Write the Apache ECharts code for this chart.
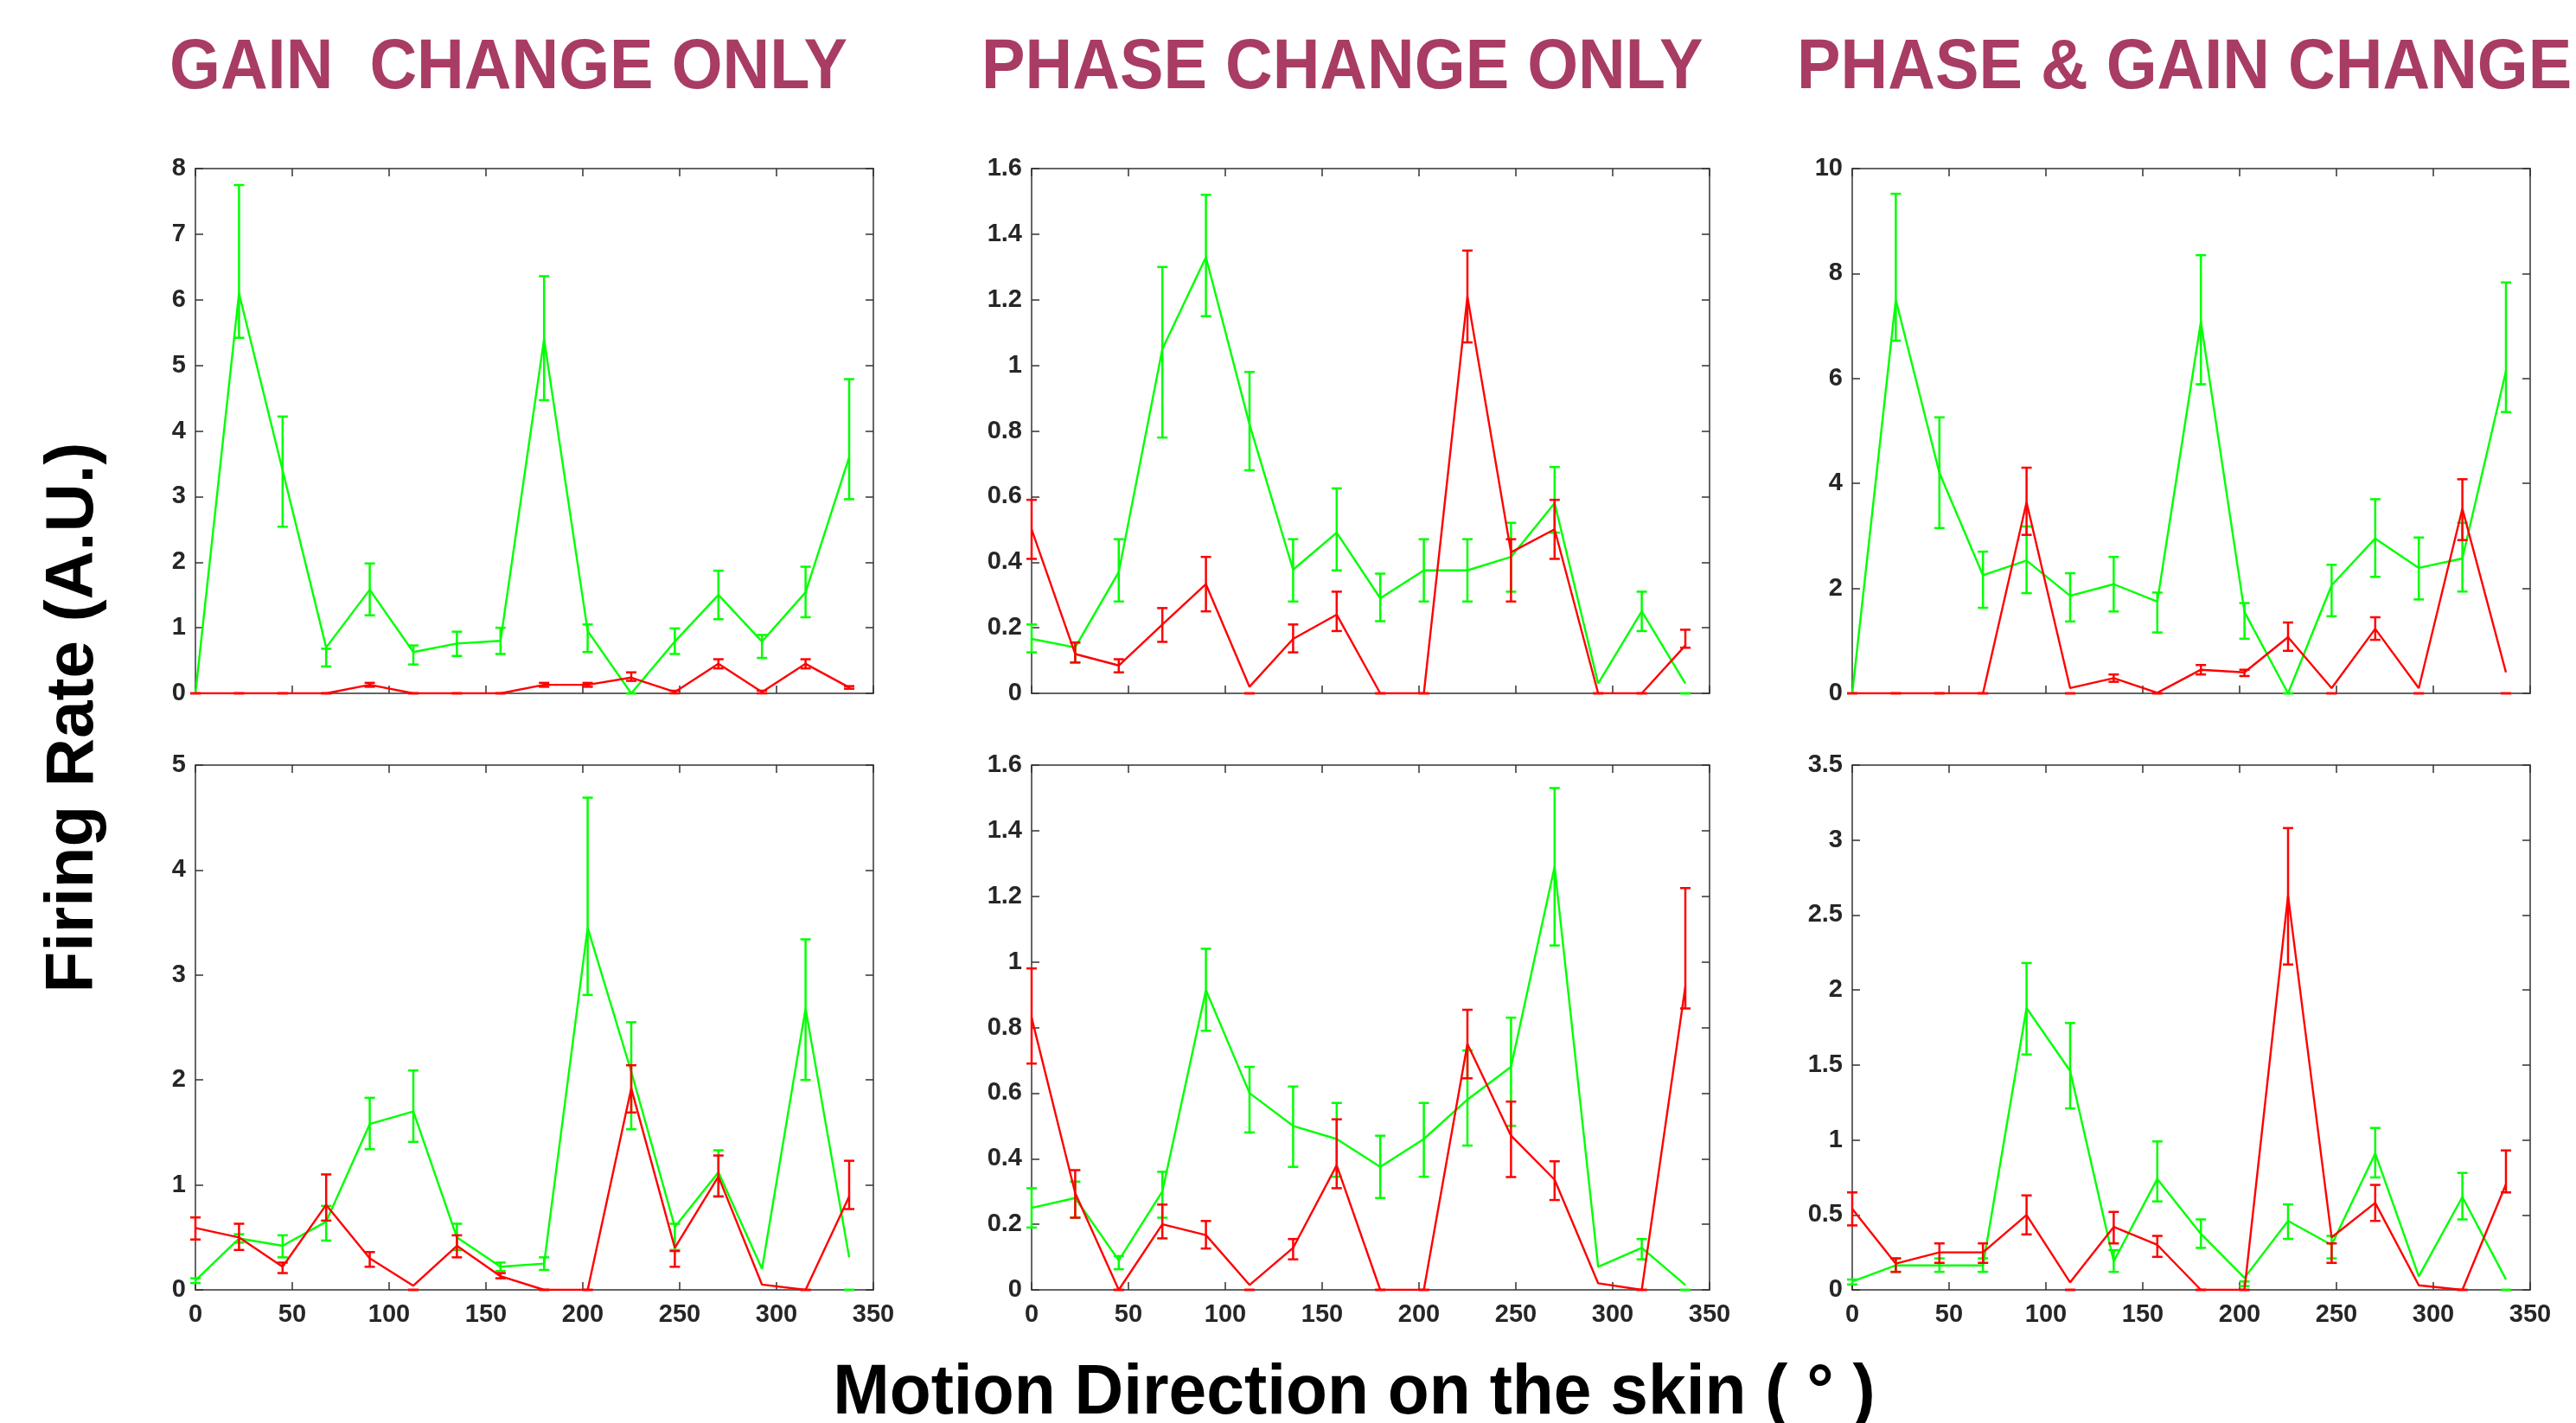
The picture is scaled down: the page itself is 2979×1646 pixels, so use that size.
<!DOCTYPE html>
<html>
<head>
<meta charset="utf-8">
<script src="https://cdn.jsdelivr.net/npm/echarts@6/dist/echarts.min.js"></script>
<style>
  html, body { margin: 0; padding: 0; background: #ffffff; }
  #chart { width: 2979px; height: 1646px; }
</style>
</head>
<body>
<div id="chart"></div>
<script>
// ---------------- DATA ----------------
const directions = [0, 22.5, 45, 67.5, 90, 112.5, 135, 157.5, 180, 202.5, 225, 247.5, 270, 292.5, 315, 337.5];

const columnTitles = ['GAIN  CHANGE ONLY', 'PHASE CHANGE ONLY', 'PHASE & GAIN CHANGE'];
const yAxisTitle = 'Firing Rate (A.U.)';
const xAxisTitle = 'Motion Direction on the skin ( \u00B0 )';

const xTickMax = 350, xTickStep = 50;
const panelYMax  = [8, 1.6, 10, 5, 1.6, 3.5];
const panelYStep = [1, 0.2, 2, 1, 0.2, 0.5];

// Panel A: gain change only, top
const greenA    = [0, 6.1, 3.4, 0.7, 1.58, 0.63, 0.76, 0.8, 5.4, 0.95, 0, 0.79, 1.5, 0.79, 1.54, 3.6];
const greenA_lo = [null, 5.42, 2.54, 0.41, 1.19, 0.44, 0.57, 0.6, 4.47, 0.63, 0, 0.6, 1.13, 0.54, 1.16, 2.96];
const greenA_hi = [null, 7.75, 4.22, 0.68, 1.98, 0.73, 0.94, 1.0, 6.36, 1.05, 0, 0.99, 1.87, 0.89, 1.93, 4.79];
const redA      = [0, 0, 0, 0, 0.13, 0, 0, 0, 0.13, 0.13, 0.24, 0.02, 0.45, 0.02, 0.45, 0.09];
const redA_lo   = [0, 0, 0, 0, 0.1, 0, 0, 0, 0.1, 0.1, 0.19, 0, 0.38, 0, 0.38, 0.07];
const redA_hi   = [0, 0, 0, 0, 0.16, 0, 0, 0, 0.16, 0.16, 0.32, 0.04, 0.52, 0.04, 0.52, 0.11];

// Panel B: phase change only, top
const greenB    = [0.166, 0.14, 0.37, 1.05, 1.33, 0.82, 0.377, 0.49, 0.29, 0.375, 0.375, 0.416, 0.58, 0.03, 0.25, 0.03];
const greenB_lo = [0.125, 0.094, 0.28, 0.78, 1.15, 0.68, 0.28, 0.375, 0.22, 0.28, 0.28, 0.31, 0.49, null, 0.19, 0];
const greenB_hi = [0.21, 0.155, 0.47, 1.30, 1.52, 0.98, 0.47, 0.625, 0.365, 0.47, 0.47, 0.52, 0.69, null, 0.31, 0];
const redB      = [0.5, 0.12, 0.085, 0.21, 0.333, 0.02, 0.166, 0.24, 0, 0, 1.21, 0.43, 0.5, 0, 0, 0.146];
const redB_lo   = [0.41, 0.094, 0.064, 0.157, 0.25, 0, 0.125, 0.19, 0, 0, 1.07, 0.28, 0.41, 0, 0, 0.139];
const redB_hi   = [0.59, 0.155, 0.104, 0.26, 0.416, 0, 0.21, 0.31, 0, 0, 1.35, 0.47, 0.59, 0, 0, 0.194];

// Panel C: phase & gain change, top
const greenC    = [0, 7.5, 4.2, 2.25, 2.53, 1.86, 2.08, 1.75, 7.08, 1.55, 0, 2.06, 2.95, 2.39, 2.57, 6.14];
const greenC_lo = [null, 6.72, 3.15, 1.63, 1.91, 1.37, 1.56, 1.16, 5.89, 1.04, 0, 1.47, 2.22, 1.79, 1.94, 5.36];
const greenC_hi = [null, 9.52, 5.26, 2.7, 3.18, 2.29, 2.6, 1.92, 8.35, 1.72, 0, 2.45, 3.7, 2.97, 3.25, 7.83];
const redC      = [0, 0, 0, 0, 3.64, 0.1, 0.29, 0.01, 0.45, 0.4, 1.07, 0.1, 1.23, 0.1, 3.52, 0.4];
const redC_lo   = [0, 0, 0, 0, 3.02, 0, 0.22, 0, 0.36, 0.33, 0.81, 0, 1.02, 0, 2.92, 0];
const redC_hi   = [0, 0, 0, 0, 4.3, 0, 0.36, 0, 0.54, 0.45, 1.35, 0, 1.45, 0, 4.08, 0];

// Panel D: gain change only, bottom
const greenD    = [0.09, 0.49, 0.42, 0.65, 1.58, 1.7, 0.5, 0.22, 0.25, 3.45, 2.08, 0.6, 1.12, 0.2, 2.68, 0.31];
const greenD_lo = [0.065, 0.45, 0.31, 0.47, 1.34, 1.41, 0.38, 0.18, 0.19, 2.81, 1.53, 0.38, 0.89, null, 2.0, 0];
const greenD_hi = [0.11, 0.53, 0.52, 0.8, 1.83, 2.09, 0.63, 0.26, 0.31, 4.69, 2.55, 0.63, 1.33, null, 3.34, 0];
const redD      = [0.59, 0.5, 0.22, 0.81, 0.3, 0.04, 0.42, 0.13, 0, 0, 1.92, 0.4, 1.08, 0.05, 0, 0.89];
const redD_lo   = [0.48, 0.38, 0.16, 0.66, 0.22, 0, 0.31, 0.11, 0, 0, 1.69, 0.22, 0.89, null, 0, 0.77];
const redD_hi   = [0.69, 0.63, 0.26, 1.1, 0.36, 0, 0.52, 0.16, 0, 0, 2.14, 0.37, 1.28, null, 0, 1.23];

// Panel E: phase change only, bottom
const greenE    = [0.25, 0.28, 0.09, 0.3, 0.914, 0.6, 0.5, 0.46, 0.375, 0.46, 0.58, 0.68, 1.29, 0.07, 0.128, 0.015];
const greenE_lo = [0.19, 0.22, 0.063, 0.22, 0.79, 0.48, 0.375, 0.345, 0.28, 0.345, 0.44, 0.5, 1.05, null, 0.093, 0];
const greenE_hi = [0.31, 0.33, 0.103, 0.36, 1.04, 0.68, 0.62, 0.57, 0.47, 0.57, 0.73, 0.83, 1.53, null, 0.155, 0];
const redE      = [0.83, 0.295, 0, 0.2, 0.167, 0.015, 0.128, 0.38, 0, 0, 0.75, 0.47, 0.336, 0.02, 0, 0.925];
const redE_lo   = [0.69, 0.22, 0, 0.157, 0.126, 0, 0.093, 0.31, 0, 0, 0.645, 0.344, 0.274, null, 0, 0.858];
const redE_hi   = [0.98, 0.365, 0, 0.26, 0.21, 0, 0.155, 0.52, 0, 0, 0.854, 0.574, 0.392, null, 0, 1.225];

// Panel F: phase & gain change, bottom
const greenF    = [0.056, 0.163, 0.163, 0.163, 1.88, 1.46, 0.19, 0.74, 0.374, 0.08, 0.46, 0.3, 0.91, 0.09, 0.62, 0.07];
const greenF_lo = [0.036, 0.12, 0.12, 0.12, 1.57, 1.21, 0.12, 0.59, 0.28, 0.025, 0.34, 0.21, 0.75, null, 0.47, 0];
const greenF_hi = [0.069, 0.21, 0.21, 0.21, 2.18, 1.78, 0.265, 0.99, 0.47, 0.056, 0.57, 0.36, 1.08, null, 0.78, 0];
const redF      = [0.54, 0.175, 0.25, 0.25, 0.5, 0.05, 0.42, 0.3, 0, 0, 2.63, 0.35, 0.58, 0.03, 0, 0.705];
const redF_lo   = [0.43, 0.12, 0.18, 0.18, 0.37, 0, 0.31, 0.22, 0, 0, 2.17, 0.18, 0.46, null, 0, 0.65];
const redF_hi   = [0.65, 0.21, 0.31, 0.31, 0.63, 0, 0.52, 0.36, 0, 0, 3.08, 0.31, 0.7, null, 0, 0.93];

// ---------------- BUILD ----------------
const panels = [
  { g: greenA, gl: greenA_lo, gh: greenA_hi, r: redA, rl: redA_lo, rh: redA_hi },
  { g: greenB, gl: greenB_lo, gh: greenB_hi, r: redB, rl: redB_lo, rh: redB_hi },
  { g: greenC, gl: greenC_lo, gh: greenC_hi, r: redC, rl: redC_lo, rh: redC_hi },
  { g: greenD, gl: greenD_lo, gh: greenD_hi, r: redD, rl: redD_lo, rh: redD_hi },
  { g: greenE, gl: greenE_lo, gh: greenE_hi, r: redE, rl: redE_lo, rh: redE_hi },
  { g: greenF, gl: greenF_lo, gh: greenF_hi, r: redF, rl: redF_lo, rh: redF_hi }
];

const GREEN = '#00FF00';
const RED = '#FF0000';
const AXIS_COLOR = '#333333';
const LABEL_COLOR = '#262626';
const LABEL_FONT = { fontSize: 29, fontWeight: 'bold', color: LABEL_COLOR, fontFamily: '"Liberation Sans", Arial, sans-serif' };

const colLeft = [226, 1193, 2142];
const rowTop = [195, 885];
const plotW = 784, plotH = 607;

const grids = [], xAxes = [], yAxes = [], series = [];

function errorRender(color) {
  return function (params, api) {
    const x = api.value(0), lo = api.value(1), hi = api.value(2);
    const pLo = api.coord([x, lo]);
    const pHi = api.coord([x, hi]);
    const hw = 6;
    const st = { stroke: color, lineWidth: 2.5 };
    return {
      type: 'group',
      children: [
        { type: 'line', shape: { x1: pLo[0], y1: pLo[1], x2: pHi[0], y2: pHi[1] }, style: st },
        { type: 'line', shape: { x1: pLo[0] - hw, y1: pLo[1], x2: pLo[0] + hw, y2: pLo[1] }, style: st },
        { type: 'line', shape: { x1: pHi[0] - hw, y1: pHi[1], x2: pHi[0] + hw, y2: pHi[1] }, style: st }
      ]
    };
  };
}

function pairs(vals) { return directions.map((d, i) => [d, vals[i]]); }
function errs(lo, hi) {
  const out = [];
  directions.forEach((d, i) => { if (lo[i] != null && hi[i] != null) out.push([d, lo[i], hi[i]]); });
  return out;
}

panels.forEach((p, k) => {
  const row = Math.floor(k / 3), col = k % 3;
  grids.push({ left: colLeft[col], top: rowTop[row], width: plotW, height: plotH, containLabel: false });
  const baseAxis = {
    gridIndex: k, type: 'value', min: 0, max: xTickMax, interval: xTickStep,
    axisLine: { show: true, onZero: false, lineStyle: { color: AXIS_COLOR, width: 1.5 } },
    axisTick: { show: true, inside: true, length: 9, lineStyle: { color: AXIS_COLOR, width: 1.5 } },
    splitLine: { show: false }
  };
  xAxes.push(Object.assign({}, baseAxis, {
    position: 'bottom',
    axisLabel: Object.assign({ show: row === 1, margin: 14 }, LABEL_FONT)
  }));
  xAxes.push(Object.assign({}, baseAxis, { position: 'top', axisLabel: { show: false } }));
  const yBase = {
    gridIndex: k, type: 'value', min: 0, max: panelYMax[k], interval: panelYStep[k],
    axisLine: { show: true, onZero: false, lineStyle: { color: AXIS_COLOR, width: 1.5 } },
    axisTick: { show: true, inside: true, length: 9, lineStyle: { color: AXIS_COLOR, width: 1.5 } },
    splitLine: { show: false }
  };
  yAxes.push(Object.assign({}, yBase, {
    position: 'left',
    axisLabel: Object.assign({ show: true, margin: 11 }, LABEL_FONT)
  }));
  yAxes.push(Object.assign({}, yBase, { position: 'right', axisLabel: { show: false } }));

  const xi = k * 2, yi = k * 2;
  series.push({
    type: 'line', xAxisIndex: xi, yAxisIndex: yi, data: pairs(p.g),
    showSymbol: false, lineStyle: { color: GREEN, width: 2.4 }, itemStyle: { color: GREEN }, z: 2
  });
  series.push({
    type: 'custom', xAxisIndex: xi, yAxisIndex: yi, data: errs(p.gl, p.gh),
    encode: { x: 0, y: [1, 2] }, renderItem: errorRender(GREEN), z: 3
  });
  series.push({
    type: 'line', xAxisIndex: xi, yAxisIndex: yi, data: pairs(p.r),
    showSymbol: false, lineStyle: { color: RED, width: 2.4 }, itemStyle: { color: RED }, z: 4
  });
  series.push({
    type: 'custom', xAxisIndex: xi, yAxisIndex: yi, data: errs(p.rl, p.rh),
    encode: { x: 0, y: [1, 2] }, renderItem: errorRender(RED), z: 5
  });
});

const TITLE_COLOR = '#A83C64';
const titleX = [196, 1135, 2078];
const graphic = columnTitles.map((t, i) => ({
  type: 'text', x: titleX[i], y: 80, scaleX: 0.935,
  style: {
    text: t, fill: TITLE_COLOR,
    font: 'bold 81px "Liberation Sans", Arial, sans-serif',
    align: 'left', verticalAlign: 'middle', textAlign: 'left', textVerticalAlign: 'middle'
  }
}));
graphic.push({
  type: 'text', x: 85, y: 830, rotation: Math.PI / 2,
  style: {
    text: yAxisTitle, fill: '#000000',
    font: 'bold 78px "Liberation Sans", Arial, sans-serif',
    align: 'center', verticalAlign: 'middle', textAlign: 'center', textVerticalAlign: 'middle'
  }
});
graphic.push({
  type: 'text', x: 1566, y: 1613, scaleX: 0.97,
  style: {
    text: xAxisTitle, fill: '#000000',
    font: 'bold 81px "Liberation Sans", Arial, sans-serif',
    align: 'center', verticalAlign: 'middle', textAlign: 'center', textVerticalAlign: 'middle'
  }
});

const chart = echarts.init(document.getElementById('chart'), null, { renderer: 'canvas' });
chart.setOption({
  backgroundColor: '#ffffff',
  animation: false,
  grid: grids,
  xAxis: xAxes,
  yAxis: yAxes,
  series: series,
  graphic: graphic
});
</script>
</body>
</html>
